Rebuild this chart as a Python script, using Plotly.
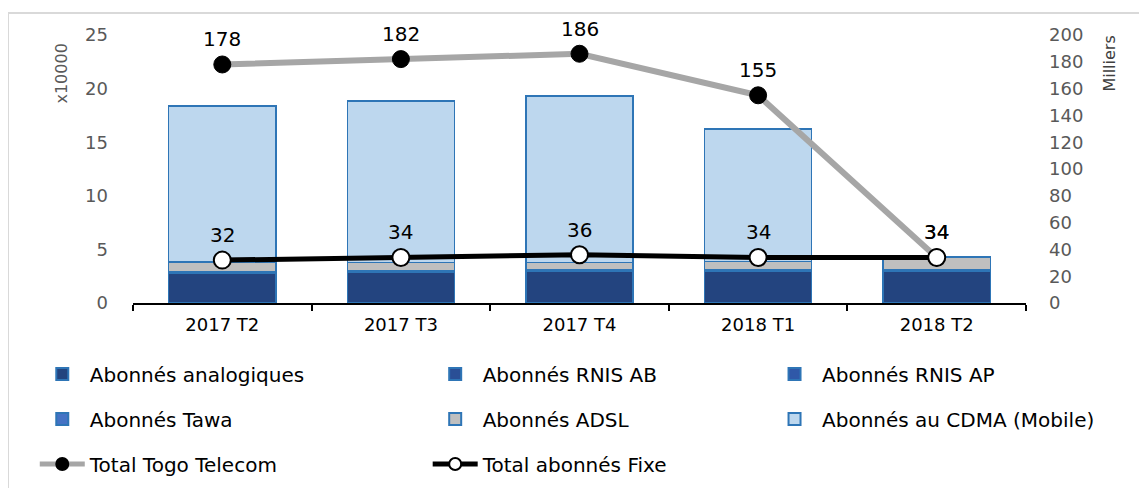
import plotly.graph_objects as go

categories = ["2017 T2", "2017 T3", "2017 T4", "2018 T1", "2018 T2"]

# bars, left axis (x10000)
analogiques = [2.75, 2.9, 3.0, 2.95, 3.0]
rnis_ab = [0.05, 0.05, 0.05, 0.05, 0.05]
rnis_ap = [0.02, 0.02, 0.02, 0.02, 0.02]
tawa = [0.06, 0.06, 0.06, 0.04, 0.03]
adsl = [0.95, 0.75, 0.65, 0.8, 1.2]
cdma = [14.55, 15.05, 15.55, 12.35, 0.0]

# lines, right axis (Milliers)
total_togo = [178, 182, 186, 155, 34]
total_fixe = [32, 34, 36, 34, 34]

FONT = "DejaVu Sans"
fig = go.Figure()

bar_specs = [
    ("Abonnés analogiques", analogiques, "#23447F", "#2E75B6", "legend"),
    ("Abonnés RNIS AB", rnis_ab, "#2A4F96", "#2E75B6", "legend2"),
    ("Abonnés RNIS AP", rnis_ap, "#2F58A8", "#2E75B6", "legend3"),
    ("Abonnés Tawa", tawa, "#4472C4", "#2E75B6", "legend"),
    ("Abonnés ADSL", adsl, "#BFBFBF", "#2E75B6", "legend2"),
    ("Abonnés au CDMA (Mobile)", cdma, "#BDD7EE", "#2E75B6", "legend3"),
]
for i, (name, vals, col, lcol, lg) in enumerate(bar_specs):
    fig.add_trace(go.Bar(
        x=categories, y=vals, name=name, legend=lg, legendgroup=name,
        marker=dict(color=col, line=dict(color=lcol, width=1.5)),
        width=0.6, hoverinfo="y+name",
    ))

fig.add_trace(go.Scatter(
    x=categories, y=total_togo, name="Total Togo Telecom", yaxis="y2",
    legend="legend", legendgroup="togo",
    mode="lines+markers",
    line=dict(color="#A6A6A6", width=6),
    marker=dict(color="black", size=17, line=dict(color="black", width=1)),
))
fig.add_trace(go.Scatter(
    x=categories, y=total_fixe, name="Total abonnés Fixe", yaxis="y2",
    legend="legend2", legendgroup="fixe",
    mode="lines+markers",
    line=dict(color="black", width=5),
    marker=dict(color="white", size=17, line=dict(color="black", width=2)),
))

annotations = []
for c, v in zip(categories, total_togo):
    annotations.append(dict(x=c, y=v, xref="x", yref="y2", text=str(v), showarrow=False,
                            yshift=25, font=dict(family=FONT, size=20, color="black")))
for c, v in zip(categories, total_fixe):
    annotations.append(dict(x=c, y=v, xref="x", yref="y2", text=str(v), showarrow=False,
                            yshift=25, font=dict(family=FONT, size=20, color="black")))
annotations.append(dict(x=-0.08, y=0.974, xref="paper", yref="paper", text="x10000",
                        textangle=-90, showarrow=False, xanchor="center", yanchor="top",
                        font=dict(family=FONT, size=16, color="#595959")))
annotations.append(dict(x=1.094, y=1.005, xref="paper", yref="paper", text="Milliers",
                        textangle=-90, showarrow=False, xanchor="center", yanchor="top",
                        font=dict(family=FONT, size=16, color="#404040")))

legend_common = dict(
    orientation="v", bgcolor="rgba(0,0,0,0)", tracegroupgap=16,
    font=dict(family=FONT, size=20, color="black"),
    xanchor="left", yanchor="top", itemsizing="constant", itemwidth=45,
)

# page body has an 8px margin, so the figure margins are reduced by 8px on left/top
fig.update_layout(
    width=1147, height=488,
    margin=dict(l=125, r=129, t=27, b=193, autoexpand=False),
    paper_bgcolor="white", plot_bgcolor="white",
    barmode="stack", bargap=0.4,
    font=dict(family=FONT, size=18, color="#595959"),
    xaxis=dict(
        type="category", showline=True, linecolor="black", linewidth=1.5,
        ticks="outside", tickson="boundaries", ticklen=6, tickcolor="black", tickwidth=1.5,
        tickfont=dict(family=FONT, size=18, color="black"), showgrid=False,
        ticklabelstandoff=5,
    ),
    yaxis=dict(
        range=[0, 25], dtick=5, showgrid=False, zeroline=False, showline=False,
        tickfont=dict(family=FONT, size=18, color="#595959"), ticklabelstandoff=24,
    ),
    yaxis2=dict(
        range=[0, 200], dtick=20, overlaying="y", side="right", showgrid=False,
        zeroline=False, showline=False,
        tickfont=dict(family=FONT, size=18, color="#595959"), ticklabelstandoff=22,
    ),
    legend=dict(x=-0.11, y=-0.192, **legend_common),
    legend2=dict(x=0.33, y=-0.192, **legend_common),
    legend3=dict(x=0.71, y=-0.192, **legend_common),
    annotations=annotations,
    shapes=[dict(type="rect", xref="paper", yref="paper", x0=-0.14, x1=1.2, y0=-0.75, y1=1.082,
                 line=dict(color="#D9D9D9", width=2), fillcolor="rgba(0,0,0,0)", layer="below")],
    showlegend=True,
)

fig.write_html("out.html")
